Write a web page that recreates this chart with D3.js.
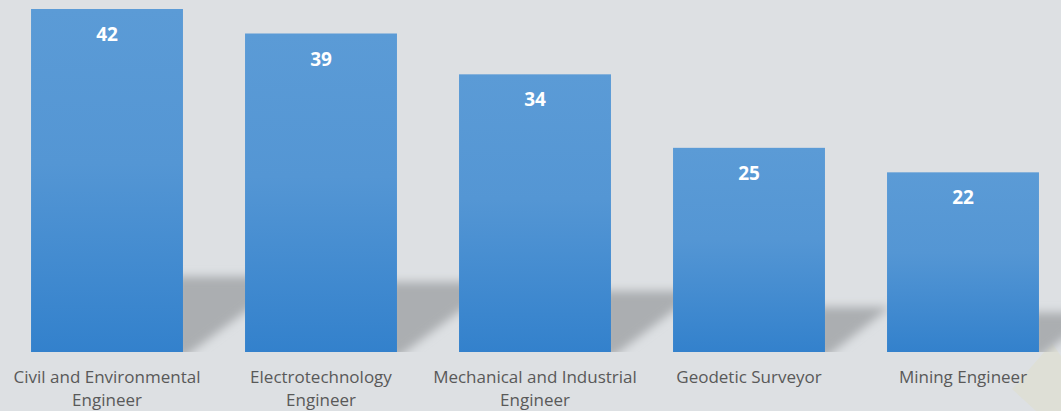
<!DOCTYPE html>
<html><head><meta charset="utf-8">
<script src="https://cdn.jsdelivr.net/npm/d3@7"></script>
<style>html,body{margin:0;padding:0;background:#dde0e3;}svg{display:block;}</style>
</head><body>
<script>
const categories = ["Civil and Environmental Engineer","Electrotechnology Engineer","Mechanical and Industrial Engineer","Geodetic Surveyor","Mining Engineer"];
const values = [42, 39, 34, 25, 22];

(function(){
const W = 1061, H = 411, baseY = 352, topY = 9;
const svg = d3.select("body").append("svg").attr("width", W).attr("height", H);
const defs = svg.append("defs");

const g = defs.append("linearGradient").attr("id","barGrad").attr("x1",0).attr("y1",0).attr("x2",0).attr("y2",1);
g.append("stop").attr("offset","0%").attr("stop-color","#5b9bd6");
g.append("stop").attr("offset","45%").attr("stop-color","#5496d4");
g.append("stop").attr("offset","100%").attr("stop-color","#3381cc");

defs.append("filter").attr("id","blur").attr("x","-20%").attr("y","-50%").attr("width","140%").attr("height","200%")
  .append("feGaussianBlur").attr("stdDeviation", 5);
defs.append("clipPath").attr("id","floorClip").append("rect").attr("x",0).attr("y",0).attr("width",W).attr("height",baseY);

svg.append("rect").attr("width",W).attr("height",H).attr("fill","#dde0e3");
svg.append("polygon").attr("points","1052,343 1061,356 1061,411 1036,411 1012,389").attr("fill","#dedfd6");

const x = d3.scaleBand().domain(categories).range([0, 1070]).paddingInner(0.29).paddingOuter(0.145);
const y = d3.scaleLinear().domain([0, 42]).range([baseY, topY]);

const sh = svg.append("g").attr("clip-path","url(#floorClip)");
sh.selectAll("polygon").data(categories).join("polygon")
  .attr("filter","url(#blur)")
  .attr("fill","#abaeb1")
  .attr("points",(d,i)=>{
    const xr = x(d) + x.bandwidth();
    const h = (baseY - y(values[i])) * 0.22;
    return [[xr-8, baseY+6],[xr-8, baseY-h],[xr+1.45*h, baseY-h],[xr, baseY+6]].map(p=>p.join(",")).join(" ");
  });

svg.selectAll("rect.bar").data(categories).join("rect").attr("class","bar")
  .attr("x", d=>x(d)).attr("width", x.bandwidth())
  .attr("y",(d,i)=>y(values[i])).attr("height",(d,i)=>baseY - y(values[i]))
  .attr("fill","url(#barGrad)");

svg.selectAll("text.val").data(categories).join("text").attr("class","val")
  .attr("x", d=>x(d)+x.bandwidth()/2).attr("y",(d,i)=>y(values[i])+32)
  .attr("text-anchor","middle").attr("fill","#ffffff")
  .attr("font-family","'Open Sans', sans-serif").attr("font-weight","bold").attr("font-size","19px")
  .text((d,i)=>values[i]);

const maxW = 210;
categories.forEach(c=>{
  const cx = x(c)+x.bandwidth()/2;
  const t = svg.append("text").attr("x", cx).attr("y", 383)
    .attr("text-anchor","middle").attr("fill","#595959")
    .attr("font-family","'Open Sans', sans-serif").attr("font-size","17px");
  const words = c.split(" ");
  let line = [];
  let ts = t.append("tspan").attr("x", cx).attr("dy", 0);
  words.forEach(w=>{
    line.push(w);
    ts.text(line.join(" "));
    if (ts.node().getComputedTextLength() > maxW && line.length > 1) {
      line.pop(); ts.text(line.join(" "));
      line = [w];
      ts = t.append("tspan").attr("x", cx).attr("dy", 23).text(w);
    }
  });
});
})();
</script>
</body></html>
